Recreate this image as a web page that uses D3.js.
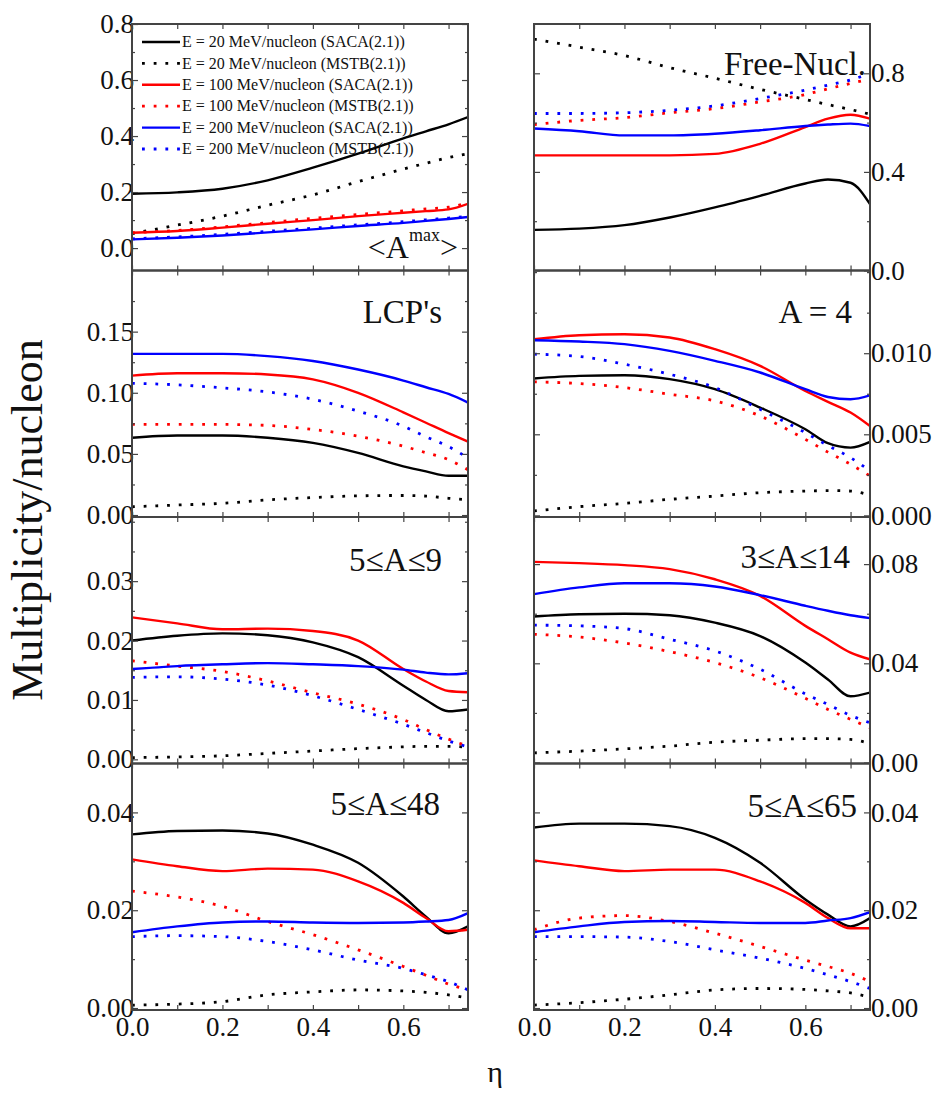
<!DOCTYPE html>
<html>
<head>
<meta charset="utf-8">
<script src="https://cdn.jsdelivr.net/npm/d3@7"></script>
<style>
  body { margin: 0; background: #fff; }
  svg text { font-family: "Liberation Serif", "Times New Roman", serif !important; fill: #111; }
  .tick text { font-size: 27px; }
  .tick line { stroke: #444; stroke-width: 1.2; }
</style>
</head>
<body>
<script>
// pseudorapidity grid (x values)
var eta = [0, 0.1, 0.2, 0.3, 0.4, 0.5, 0.6, 0.65, 0.7, 0.743];

var seriesNames = [
  "E = 20 MeV/nucleon (SACA(2.1))",
  "E = 20 MeV/nucleon (MSTB(2.1))",
  "E = 100 MeV/nucleon (SACA(2.1))",
  "E = 100 MeV/nucleon (MSTB(2.1))",
  "E = 200 MeV/nucleon (SACA(2.1))",
  "E = 200 MeV/nucleon (MSTB(2.1))"
];

// each panel: rows in seriesNames order
var amaxValues = [
  [0.194, 0.199, 0.212, 0.242, 0.287, 0.337, 0.392, 0.417, 0.442, 0.468],
  [0.052, 0.082, 0.114, 0.153, 0.190, 0.237, 0.282, 0.303, 0.323, 0.337],
  [0.055, 0.061, 0.073, 0.087, 0.100, 0.114, 0.126, 0.132, 0.138, 0.158],
  [0.055, 0.063, 0.076, 0.091, 0.106, 0.120, 0.133, 0.140, 0.146, 0.162],
  [0.031, 0.037, 0.045, 0.056, 0.067, 0.079, 0.090, 0.097, 0.104, 0.111],
  [0.033, 0.040, 0.049, 0.060, 0.071, 0.083, 0.094, 0.101, 0.107, 0.113]
];
var freeNuclValues = [
  [0.165, 0.170, 0.184, 0.215, 0.256, 0.303, 0.353, 0.369, 0.356, 0.269],
  [0.939, 0.906, 0.872, 0.823, 0.780, 0.735, 0.694, 0.673, 0.653, 0.634],
  [0.467, 0.467, 0.467, 0.467, 0.473, 0.514, 0.582, 0.616, 0.632, 0.616],
  [0.592, 0.609, 0.620, 0.640, 0.657, 0.684, 0.714, 0.737, 0.759, 0.777],
  [0.576, 0.565, 0.548, 0.548, 0.555, 0.569, 0.586, 0.592, 0.596, 0.586],
  [0.637, 0.637, 0.640, 0.650, 0.668, 0.698, 0.732, 0.752, 0.773, 0.800]
];
var lcpValues = [
  [0.0632, 0.0650, 0.0650, 0.0632, 0.0590, 0.0508, 0.0398, 0.0357, 0.0321, 0.0321],
  [0.0068, 0.0082, 0.0096, 0.0124, 0.0143, 0.0157, 0.0160, 0.0155, 0.0137, 0.0124],
  [0.1140, 0.1160, 0.1160, 0.1150, 0.1110, 0.1000, 0.0840, 0.0755, 0.0670, 0.0600],
  [0.0741, 0.0741, 0.0741, 0.0733, 0.0700, 0.0645, 0.0563, 0.0510, 0.0453, 0.0370],
  [0.1318, 0.1318, 0.1318, 0.1300, 0.1260, 0.1190, 0.1100, 0.1045, 0.0990, 0.0920],
  [0.1077, 0.1065, 0.1040, 0.1007, 0.0947, 0.0850, 0.0727, 0.0640, 0.0560, 0.0467]
];
var a4Values = [
  [0.00844, 0.00860, 0.00864, 0.00840, 0.00778, 0.00665, 0.00531, 0.00445, 0.00418, 0.00453],
  [0.00027, 0.00054, 0.00074, 0.00099, 0.00119, 0.00140, 0.00150, 0.00153, 0.00150, 0.00123],
  [0.01086, 0.01111, 0.01117, 0.01097, 0.01025, 0.00922, 0.00767, 0.00700, 0.00634, 0.00551],
  [0.00823, 0.00813, 0.00788, 0.00747, 0.00706, 0.00613, 0.00469, 0.00390, 0.00315, 0.00243],
  [0.01080, 0.01072, 0.01056, 0.01014, 0.00953, 0.00881, 0.00778, 0.00730, 0.00716, 0.00740],
  [0.00994, 0.00980, 0.00932, 0.00870, 0.00788, 0.00654, 0.00510, 0.00430, 0.00356, 0.00274]
];
var a5to9Values = [
  [0.0200, 0.0208, 0.0212, 0.0209, 0.0197, 0.0172, 0.0124, 0.0100, 0.0081, 0.0084],
  [0.0003, 0.0004, 0.0006, 0.0010, 0.0014, 0.0018, 0.0021, 0.0022, 0.0022, 0.0020],
  [0.0239, 0.0229, 0.0219, 0.0220, 0.0216, 0.0200, 0.0152, 0.0131, 0.0115, 0.0113],
  [0.0166, 0.0157, 0.0148, 0.0132, 0.0112, 0.0093, 0.0067, 0.0050, 0.0034, 0.0022],
  [0.0152, 0.0157, 0.0160, 0.0162, 0.0160, 0.0157, 0.0151, 0.0146, 0.0143, 0.0145],
  [0.0138, 0.0139, 0.0135, 0.0125, 0.0107, 0.0084, 0.0059, 0.0045, 0.0031, 0.0021]
];
var a3to14Values = [
  [0.0589, 0.0598, 0.0600, 0.0594, 0.0564, 0.0510, 0.0403, 0.0335, 0.0267, 0.0282],
  [0.0039, 0.0046, 0.0055, 0.0066, 0.0082, 0.0090, 0.0096, 0.0096, 0.0093, 0.0076],
  [0.0809, 0.0804, 0.0796, 0.0780, 0.0739, 0.0672, 0.0551, 0.0497, 0.0443, 0.0416],
  [0.0517, 0.0506, 0.0482, 0.0447, 0.0403, 0.0342, 0.0259, 0.0214, 0.0174, 0.0140],
  [0.0679, 0.0706, 0.0723, 0.0723, 0.0710, 0.0675, 0.0632, 0.0612, 0.0594, 0.0582],
  [0.0554, 0.0551, 0.0540, 0.0497, 0.0450, 0.0376, 0.0277, 0.0234, 0.0190, 0.0160]
];
var a5to48Values = [
  [0.0355, 0.0362, 0.0363, 0.0357, 0.0334, 0.0297, 0.0228, 0.0187, 0.0153, 0.0167],
  [0.0006, 0.0008, 0.0013, 0.0027, 0.0033, 0.0037, 0.0035, 0.0032, 0.0027, 0.0020],
  [0.0304, 0.0290, 0.0280, 0.0285, 0.0283, 0.0259, 0.0215, 0.0184, 0.0157, 0.0160],
  [0.0239, 0.0227, 0.0208, 0.0177, 0.0150, 0.0119, 0.0085, 0.0067, 0.0049, 0.0037],
  [0.0155, 0.0167, 0.0175, 0.0177, 0.0175, 0.0174, 0.0175, 0.0177, 0.0180, 0.0194],
  [0.0146, 0.0148, 0.0146, 0.0136, 0.0119, 0.0098, 0.0081, 0.0068, 0.0054, 0.0037]
];
var a5to65Values = [
  [0.0369, 0.0377, 0.0377, 0.0372, 0.0348, 0.0297, 0.0222, 0.0191, 0.0167, 0.0184],
  [0.0006, 0.0011, 0.0018, 0.0027, 0.0037, 0.0040, 0.0038, 0.0035, 0.0031, 0.0022],
  [0.0302, 0.0290, 0.0280, 0.0283, 0.0283, 0.0259, 0.0215, 0.0184, 0.0163, 0.0163],
  [0.0160, 0.0184, 0.0189, 0.0177, 0.0153, 0.0126, 0.0098, 0.0085, 0.0071, 0.0054],
  [0.0155, 0.0167, 0.0176, 0.0178, 0.0176, 0.0174, 0.0174, 0.0179, 0.0184, 0.0196],
  [0.0146, 0.0146, 0.0145, 0.0136, 0.0119, 0.0102, 0.0081, 0.0068, 0.0054, 0.0040]
];

var xTicks = [0, 0.1, 0.2, 0.3, 0.4, 0.5, 0.6, 0.7];

var colors = ["#000", "#000", "#f00", "#f00", "#00f", "#00f"];
var dotted = [false, true, false, true, false, true];

var panels = [
  {values: amaxValues, col: 0, row: 0, domain: [-0.08, 0.8], ticks: [0, 0.2, 0.4, 0.6, 0.8], minor: 0.1, fmt: ".1f"},
  {values: freeNuclValues, col: 1, row: 0, domain: [0, 1.0], ticks: [0, 0.4, 0.8], minor: 0.2, fmt: ".1f",
    label: "Free-Nucl.", lx: 332, ly: 51},
  {values: lcpValues, col: 0, row: 1, domain: [-0.0016, 0.2], ticks: [0, 0.05, 0.1, 0.15], minor: 0.025, fmt: ".2f",
    label: "LCP's", lx: 310, ly: 52},
  {values: a4Values, col: 1, row: 1, domain: [-0.0001, 0.0151], ticks: [0, 0.005, 0.01], minor: 0.0025, fmt: ".3f",
    label: "A = 4", lx: 318, ly: 52},
  {values: a5to9Values, col: 0, row: 2, domain: [-0.0007, 0.0408], ticks: [0, 0.01, 0.02, 0.03], minor: 0.005, fmt: ".2f",
    label: "5\u2264A\u22649", lx: 310, ly: 54},
  {values: a3to14Values, col: 1, row: 2, domain: [-0.0004, 0.099], ticks: [0, 0.04, 0.08], minor: 0.02, fmt: ".2f",
    label: "3\u2264A\u226414", lx: 316, ly: 51},
  {values: a5to48Values, col: 0, row: 3, domain: [-0.0004, 0.05], ticks: [0, 0.02, 0.04], minor: 0.01, fmt: ".2f",
    label: "5\u2264A\u226448", lx: 308, ly: 51},
  {values: a5to65Values, col: 1, row: 3, domain: [-0.0004, 0.05], ticks: [0, 0.02, 0.04], minor: 0.01, fmt: ".2f",
    label: "5\u2264A\u226465", lx: 323, ly: 53}
];

var width = 940, height = 1115;
var colX = [132, 534],
    rowY = [24, 270.5, 517, 763.5],
    pw = 336, ph = 246.5;

var svg = d3.select("body").append("svg")
    .attr("width", width)
    .attr("height", height)
    .attr("font-family", "Liberation Serif");

var x = d3.scaleLinear().domain([0, 0.743]).range([0, pw]);

function noDomain(a) {
    a.select(".domain").remove();
    a.attr("font-family", null);
}

panels.forEach(function(p, i) {
    var g = svg.append("g")
        .attr("transform", "translate(" + colX[p.col] + "," + rowY[p.row] + ")");
    var y = d3.scaleLinear().domain(p.domain).range([ph, 0]);

    g.append("clipPath").attr("id", "clip" + i)
      .append("rect").attr("width", pw).attr("height", ph);

    var line = d3.line()
        .x(function(d, j) { return x(eta[j]); })
        .y(function(d) { return y(d); })
        .curve(d3.curveMonotoneX);

    var curves = g.append("g").attr("clip-path", "url(#clip" + i + ")");
    p.values.forEach(function(vals, k) {
        curves.append("path")
            .attr("d", line(vals))
            .attr("fill", "none")
            .attr("stroke", colors[k])
            .attr("stroke-width", dotted[k] ? 2.8 : 2.4)
            .attr("stroke-dasharray", dotted[k] ? "2.8,8.9" : null);
    });

    // minor y ticks
    var minors = d3.range(Math.ceil(p.domain[0] / p.minor) * p.minor, p.domain[1], p.minor)
        .filter(function(v) { return p.ticks.every(function(t) { return Math.abs(t - v) > p.minor / 10; }); });

    var isBottom = p.row === 3;
    g.append("g").attr("transform", "translate(0," + ph + ")")
        .call(d3.axisBottom(x).tickValues(xTicks).tickSize(-5).tickPadding(7)
            .tickFormat(function(d) {
                if (!isBottom) return "";
                return Math.round(d * 10) % 2 === 0 ? d3.format(".1f")(d) : "";
            }))
        .call(noDomain);
    g.append("g")
        .call(d3.axisTop(x).tickValues(xTicks).tickSize(-5).tickFormat(""))
        .call(noDomain);

    var leftAx = d3.axisLeft(y).tickValues(p.ticks).tickSize(-6);
    var rightAx = d3.axisRight(y).tickValues(p.ticks).tickSize(-6);
    if (p.col === 0) {
        leftAx.tickPadding(-2).tickFormat(d3.format(p.fmt));
        rightAx.tickFormat("");
    } else {
        leftAx.tickFormat("");
        rightAx.tickPadding(1).tickFormat(d3.format(p.fmt));
    }
    g.append("g").call(leftAx).call(noDomain);
    g.append("g").attr("transform", "translate(" + pw + ",0)")
        .call(rightAx).call(noDomain);
    g.append("g").call(d3.axisLeft(y).tickValues(minors).tickSize(-3).tickFormat(""))
        .call(noDomain);
    g.append("g").attr("transform", "translate(" + pw + ",0)")
        .call(d3.axisRight(y).tickValues(minors).tickSize(-3).tickFormat(""))
        .call(noDomain);

    g.append("rect")
        .attr("width", pw).attr("height", ph)
        .attr("fill", "none")
        .attr("stroke", "#444")
        .attr("stroke-width", 2);

    if (p.label) {
        g.append("text")
            .attr("x", p.lx).attr("y", p.ly)
            .attr("text-anchor", "end")
            .style("font-size", "33px")
            .text(p.label);
    }
});

// <A^max> label in the first panel
var amaxLabel = svg.append("text")
    .attr("x", 458).attr("y", 258)
    .attr("text-anchor", "end")
    .style("font-size", "32px");
amaxLabel.append("tspan").text("<A");
amaxLabel.append("tspan").attr("dy", -17).style("font-size", "18px").text("max");
amaxLabel.append("tspan").attr("dy", 17).text(">");

// legend
var legend = svg.append("g").attr("transform", "translate(142,42)");
seriesNames.forEach(function(name, k) {
    var row = legend.append("g").attr("transform", "translate(0," + (k * 21.4) + ")");
    row.append("line")
        .attr("x1", 0).attr("x2", 38)
        .attr("stroke", colors[k])
        .attr("stroke-width", dotted[k] ? 2.8 : 2.4)
        .attr("stroke-dasharray", dotted[k] ? "2.8,8.9" : null);
    row.append("text")
        .attr("x", 40).attr("y", 0)
        .attr("dy", "0.33em")
        .style("font-size", "16px")
        .text(name);
});

// axis titles
svg.append("text")
    .attr("transform", "translate(42,520) rotate(-90)")
    .attr("text-anchor", "middle")
    .style("font-size", "44px")
    .text("Multiplicity/nucleon");

svg.append("text")
    .attr("x", 495).attr("y", 1082)
    .attr("text-anchor", "middle")
    .style("font-size", "30px")
    .text("\u03b7");
</script>
</body>
</html>
